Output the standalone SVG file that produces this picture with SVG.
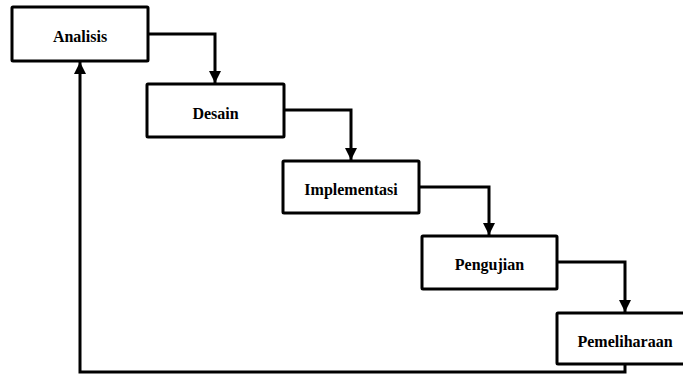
<svg xmlns="http://www.w3.org/2000/svg" width="683" height="376" viewBox="0 0 683 376">
<style>
.box{fill:#fff;stroke:#000;stroke-width:3;stroke-linejoin:round}
.lbl{font-family:'Liberation Serif','DejaVu Serif',serif;font-weight:700;font-size:16px;text-anchor:middle;fill:#000}
.con{fill:none;stroke:#000;stroke-width:3;stroke-linejoin:miter}
</style>
<defs>
<marker id="ah" markerUnits="userSpaceOnUse" markerWidth="12" markerHeight="12" refX="12" refY="6" orient="auto" viewBox="0 0 12 12">
<path d="M0,0 L12,6 L0,12 Z" fill="#000"/>
</marker>
</defs>
<g id="connectors">
<path class="con" d="M148,34 H215 V83" marker-end="url(#ah)"/>
<path class="con" d="M284,110 H351 V160" marker-end="url(#ah)"/>
<path class="con" d="M419,187 H489 V235" marker-end="url(#ah)"/>
<path class="con" d="M557,262 H625 V312" marker-end="url(#ah)"/>
<path class="con" d="M625,364 V372 H80 V62" marker-end="url(#ah)"/>
</g>
<g id="analisis"><rect class="box" x="12" y="7" width="136" height="54" rx="1"/><text class="lbl" font-family="Liberation Serif, serif" x="80" y="42">Analisis</text></g>
<g id="desain"><rect class="box" x="147" y="84" width="137" height="53" rx="1"/><text class="lbl" font-family="Liberation Serif, serif" x="215.5" y="119">Desain</text></g>
<g id="implementasi"><rect class="box" x="283" y="161" width="136" height="52" rx="1"/><text class="lbl" font-family="Liberation Serif, serif" x="351" y="195">Implementasi</text></g>
<g id="pengujian"><rect class="box" x="422" y="236" width="135" height="53" rx="1"/><text class="lbl" font-family="Liberation Serif, serif" x="489.5" y="270">Pengujian</text></g>
<g id="pemeliharaan"><rect class="box" x="557" y="313" width="136" height="51" rx="1"/><text class="lbl" font-family="Liberation Serif, serif" x="625" y="347">Pemeliharaan</text></g>
</svg>
